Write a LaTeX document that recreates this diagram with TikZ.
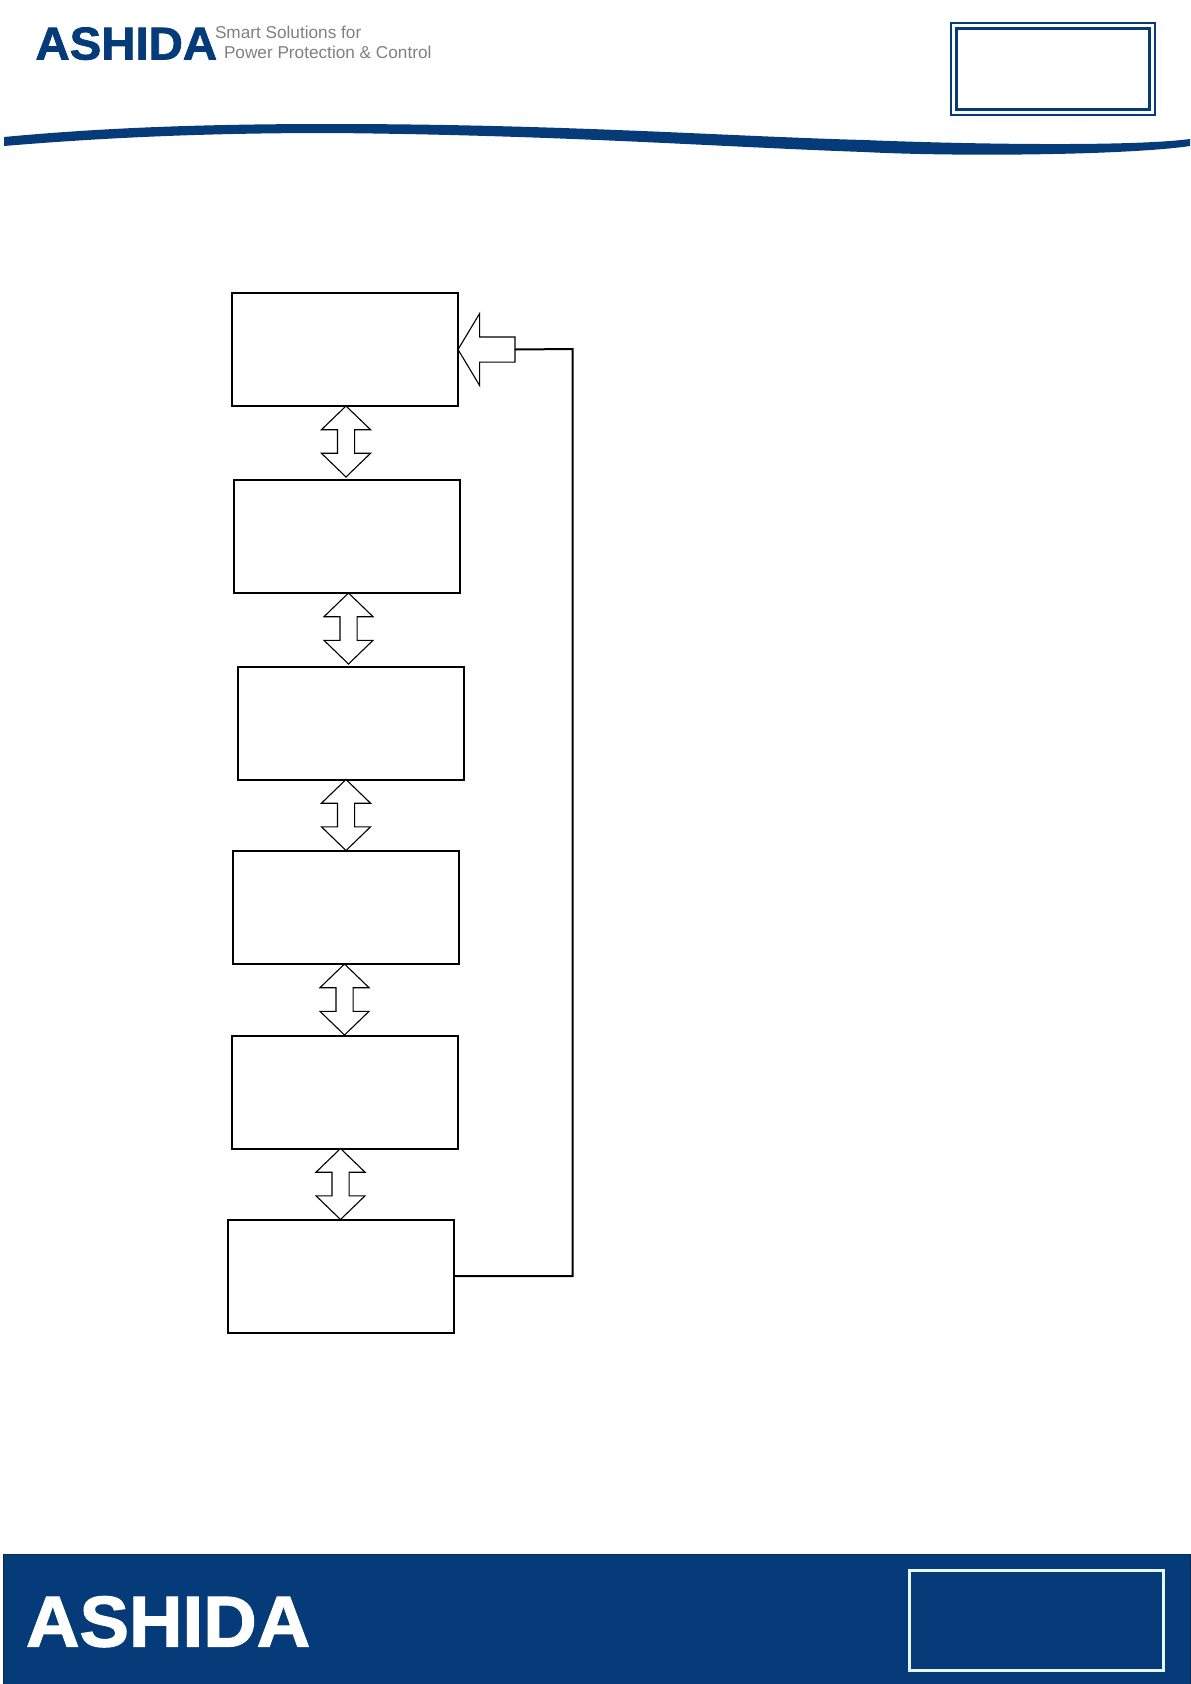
\documentclass[tikz,border=0pt]{standalone}
\usepackage{xcolor}
\usepackage{fontspec}
\usepackage{tikz}
\usetikzlibrary{shapes.arrows}
\newfontfamily\logofont{Liberation Sans}[BoldFeatures={FakeBold=1.6}]
\definecolor{ashidablue}{HTML}{053B78}
\definecolor{taggray}{HTML}{808084}
\tikzset{
    flowbox/.style={draw, line width=2pt, minimum width=226pt, minimum height=113pt, inner sep=0pt, outer sep=0pt},
    twoway/.style={draw, line width=1.1pt, fill=white, shape=double arrow, rotate=90, minimum height=71pt, double arrow head extend=16pt, double arrow tip angle=92, inner xsep=0pt, inner ysep=8pt, outer sep=0pt},
    logotext/.style={inner sep=0pt, outer sep=0pt, anchor=base west, font=\logofont}
}
\begin{document}
\begin{tikzpicture}[x=1pt, y=-1pt]

    \useasboundingbox (0,0) rectangle (1191,1684);

    % header
    \node[logotext, text=ashidablue, xscale=1.03, transform shape] (logotop) at (35.5,59.5) {\fontsize{46}{46}\selectfont\bfseries ASHIDA};
    \node[logotext, text=taggray] (tagone) at (215,38) {\fontsize{17.2}{17.2}\selectfont Smart Solutions for};
    \node[logotext, text=taggray] (tagtwo) at (224,58.5) {\fontsize{17.2}{17.2}\selectfont Power Protection \& Control};

    \fill[ashidablue] (4,137) .. controls (100,128) and (200,124) .. (330,124)
        .. controls (560,124) and (720,136) .. (864,140)
        .. controls (960,144) and (1130,147) .. (1190,139)
        -- (1190,146) .. controls (1130,155) and (960,157) .. (864,152)
        .. controls (720,147) and (560,135) .. (330,133)
        .. controls (200,133) and (100,138) .. (4,146) -- cycle;

    \draw[ashidablue, line width=1.2pt] (951,23) rectangle (1155,115);
    \draw[ashidablue, line width=3pt] (956,28) rectangle (1149.5,109);

    % flow boxes
    \node[flowbox] (bxone) at (345,349.5) {};
    \node[flowbox] (bxtwo) at (346.5,536) {};
    \node[flowbox] (bxthree) at (351,723) {};
    \node[flowbox] (bxfour) at (346,907) {};
    \node[flowbox] (bxfive) at (345,1092) {};
    \node[flowbox] (bxsix) at (341,1276) {};

    % arrows between the boxes
    \node[twoway] (arrone) at (346,441.5) {};
    \node[twoway] (arrtwo) at (348.5,628.5) {};
    \node[twoway] (arrthree) at (346,815) {};
    \node[twoway] (arrfour) at (344.5,999.5) {};
    \node[twoway] (arrfive) at (340.5,1184) {};

    % return path
    \node[draw, line width=1.1pt, fill=white, shape=single arrow, rotate=180, anchor=tip, minimum height=57pt, single arrow head extend=23.5pt, single arrow tip angle=118, inner xsep=0pt, inner ysep=12pt, outer sep=0pt] (arrback) at (bxone.east) {};
    \coordinate (backturn) at (572.5,349);
    \draw[line width=2pt] (bxsix.east) -| (backturn) -- (arrback.tail);

    % footer
    \node[fill=ashidablue, draw=ashidablue!70!black, line width=1pt, minimum width=1187pt, minimum height=131pt, inner sep=0pt, outer sep=0pt, anchor=north west] (footband) at (3,1554) {};
    \node[logotext, text=white, xscale=1.03, transform shape] (logobottom) at (26,1646.5) {\fontsize{72}{72}\selectfont\bfseries ASHIDA};
    \node[draw=white!90!cyan, line width=3pt, minimum width=254pt, minimum height=100pt, inner sep=0pt, anchor=north west] (footframe) at (908,1569) {};

\end{tikzpicture}
\end{document}
